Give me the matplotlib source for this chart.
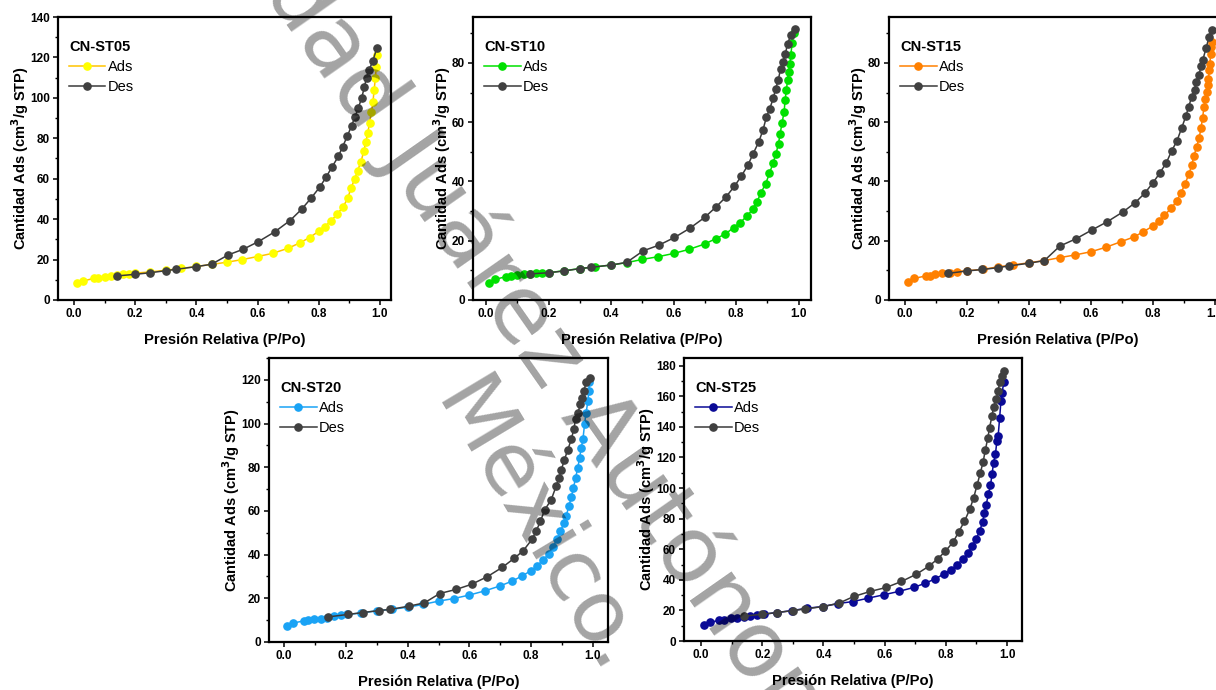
import matplotlib
matplotlib.use("Agg")
import matplotlib.pyplot as plt
from matplotlib.ticker import MultipleLocator

plt.rcParams['font.family'] = ['Liberation Sans', 'DejaVu Sans']
plt.rcParams['mathtext.default'] = 'bf'

# --- data (P/Po, cm3/g STP) ---
st05_ads_p = [0.01, 0.03, 0.065, 0.08, 0.10, 0.12, 0.14, 0.16, 0.18, 0.20, 0.25, 0.30, 0.35, 0.40, 0.45,
              0.50, 0.55, 0.60, 0.65, 0.70, 0.74, 0.77, 0.80, 0.82, 0.84, 0.86, 0.88, 0.895, 0.905, 0.918,
              0.927, 0.938, 0.947, 0.954, 0.96, 0.966, 0.972, 0.977, 0.981, 0.985, 0.988, 0.99]
st05_ads_v = [8.3, 9.4, 10.7, 11.0, 11.5, 12.0, 12.4, 12.7, 13.0, 13.3, 13.9, 14.7, 15.6, 16.6, 17.6,
              18.7, 20.0, 21.5, 23.1, 25.6, 28.4, 30.9, 34.0, 36.3, 39.1, 42.4, 46.2, 50.4, 55.3, 60.0,
              64.0, 68.5, 73.5, 78.4, 82.5, 87.8, 92.8, 98.0, 104.0, 110.0, 115.5, 121.0]
st05_des_p = [0.99, 0.976, 0.965, 0.956, 0.949, 0.94, 0.929, 0.918, 0.907, 0.893, 0.878, 0.864, 0.844,
              0.824, 0.804, 0.775, 0.744, 0.706, 0.657, 0.603, 0.553, 0.504, 0.45, 0.40, 0.335, 0.30,
              0.25, 0.20, 0.14]
st05_des_v = [124.7, 118.0, 114.0, 110.0, 105.3, 99.9, 94.9, 90.5, 86.2, 80.9, 75.9, 71.0, 66.0,
              60.8, 56.0, 50.4, 44.9, 39.3, 33.8, 28.9, 25.1, 22.3, 17.7, 16.5, 15.2, 14.5,
              13.5, 12.7, 11.9]

st10_ads_p = [0.01, 0.03, 0.065, 0.08, 0.10, 0.12, 0.14, 0.16, 0.18, 0.20, 0.25, 0.30, 0.35, 0.40, 0.45,
              0.50, 0.55, 0.60, 0.65, 0.70, 0.735, 0.765, 0.792, 0.813, 0.835, 0.853, 0.867, 0.88, 0.895,
              0.907, 0.918, 0.928, 0.936, 0.941, 0.947, 0.954, 0.957, 0.961, 0.965, 0.968, 0.973, 0.975,
              0.98, 0.984]
st10_ads_v = [5.8, 7.0, 7.9, 8.1, 8.4, 8.7, 8.9, 9.0, 9.1, 9.2, 9.9, 10.6, 11.2, 11.8, 12.6,
              13.7, 14.6, 15.7, 17.1, 18.9, 20.7, 22.2, 24.4, 26.1, 28.3, 30.6, 33.1, 36.2, 39.3,
              42.7, 46.1, 49.4, 52.8, 56.0, 59.6, 63.5, 67.4, 70.8, 74.2, 77.0, 79.8, 82.6,
              86.7, 90.0]
st10_des_p = [0.99, 0.975, 0.965, 0.958, 0.95, 0.943, 0.935, 0.927, 0.919, 0.908, 0.897, 0.886, 0.873,
              0.854, 0.838, 0.817, 0.795, 0.768, 0.737, 0.70, 0.652, 0.603, 0.553, 0.503, 0.45, 0.40,
              0.335, 0.30, 0.25, 0.20, 0.14]
st10_des_v = [91.6, 89.3, 86.5, 83.1, 80.3, 78.1, 74.2, 71.3, 68.0, 64.6, 61.6, 57.3, 53.4,
              49.2, 45.5, 41.8, 38.4, 34.8, 31.5, 27.9, 24.2, 21.1, 18.5, 16.6, 12.7, 11.8,
              11.0, 10.6, 9.8, 9.2, 8.8]

st15_ads_p = [0.01, 0.03, 0.066, 0.079, 0.098, 0.12, 0.144, 0.168, 0.20, 0.251, 0.30, 0.35, 0.401, 0.45,
              0.50, 0.549, 0.601, 0.649, 0.698, 0.74, 0.769, 0.80, 0.82, 0.838, 0.86, 0.877, 0.891, 0.904,
              0.917, 0.926, 0.933, 0.942, 0.95, 0.956, 0.961, 0.966, 0.969, 0.975, 0.977, 0.98, 0.983,
              0.985, 0.987, 0.989, 0.99]
st15_ads_v = [6.2, 7.3, 8.1, 8.2, 8.7, 9.0, 9.2, 9.6, 9.9, 10.3, 11.2, 11.8, 12.6, 13.3,
              14.3, 15.2, 16.3, 17.8, 19.7, 21.3, 23.0, 24.9, 26.7, 28.7, 30.9, 33.4, 36.0, 39.1,
              42.5, 45.5, 48.5, 51.7, 54.8, 57.9, 61.5, 65.2, 67.7, 70.2, 72.5, 74.7, 77.5,
              79.8, 83.1, 85.4, 87.1]
st15_des_p = [0.99, 0.982, 0.973, 0.962, 0.956, 0.949, 0.94, 0.935, 0.926, 0.916, 0.907, 0.893, 0.878,
              0.861, 0.844, 0.822, 0.801, 0.774, 0.743, 0.705, 0.653, 0.603, 0.553, 0.50, 0.45, 0.40,
              0.335, 0.30, 0.25, 0.20, 0.14]
st15_des_v = [91.2, 88.8, 85.2, 81.1, 78.9, 75.8, 73.6, 71.0, 68.5, 65.2, 62.0, 57.9, 53.6,
              50.3, 46.3, 42.7, 39.6, 36.0, 32.8, 29.8, 26.4, 23.6, 20.7, 18.2, 13.3, 12.4,
              11.5, 10.9, 10.3, 9.8, 9.0]

st20_ads_p = [0.01, 0.03, 0.065, 0.076, 0.098, 0.12, 0.14, 0.162, 0.184, 0.205, 0.25, 0.30, 0.35, 0.40,
              0.45, 0.50, 0.55, 0.60, 0.65, 0.70, 0.739, 0.77, 0.798, 0.82, 0.838, 0.857, 0.871, 0.885,
              0.895, 0.906, 0.914, 0.922, 0.93, 0.937, 0.944, 0.951, 0.957, 0.962, 0.968, 0.973, 0.978,
              0.984, 0.987, 0.989]
st20_ads_v = [7.2, 8.7, 9.7, 10.0, 10.3, 10.7, 11.2, 11.8, 12.3, 12.6, 13.3, 14.3, 15.0, 15.9,
              17.2, 18.7, 19.9, 21.5, 23.4, 25.7, 27.9, 30.2, 32.5, 34.9, 37.5, 40.2, 43.7, 47.1,
              50.6, 54.4, 57.9, 62.1, 66.2, 70.5, 75.1, 79.7, 84.3, 88.6, 93.0, 99.6, 105.0,
              110.3, 115.0, 118.8]
st20_des_p = [0.99, 0.978, 0.971, 0.966, 0.959, 0.952, 0.944, 0.938, 0.93, 0.919, 0.908, 0.898, 0.89,
              0.881, 0.865, 0.844, 0.83, 0.817, 0.804, 0.774, 0.745, 0.707, 0.658, 0.607, 0.558, 0.504,
              0.454, 0.404, 0.343, 0.308, 0.256, 0.206, 0.143]
st20_des_v = [121.0, 118.8, 115.0, 111.9, 108.8, 105.0, 101.9, 97.3, 92.7, 88.1, 83.5, 78.9, 75.0,
              71.3, 65.1, 60.5, 55.2, 51.0, 47.2, 41.7, 38.3, 34.2, 29.9, 26.4, 24.1, 22.2,
              17.9, 16.4, 14.9, 14.4, 13.5, 12.6, 11.5]

st25_ads_p = [0.01, 0.03, 0.06, 0.075, 0.098, 0.118, 0.139, 0.161, 0.183, 0.205, 0.248, 0.297, 0.346,
              0.397, 0.448, 0.497, 0.546, 0.597, 0.646, 0.695, 0.733, 0.766, 0.793, 0.817, 0.837, 0.856,
              0.873, 0.886, 0.90, 0.911, 0.92, 0.926, 0.932, 0.939, 0.946, 0.951, 0.956, 0.962, 0.967,
              0.971, 0.976, 0.98, 0.984, 0.989]
st25_ads_v = [10.5, 12.2, 13.6, 14.0, 14.9, 15.3, 16.0, 16.4, 17.1, 17.5, 18.6, 19.9, 21.4,
              22.5, 24.5, 25.8, 28.0, 30.2, 32.4, 35.0, 37.8, 40.7, 43.7, 46.6, 49.9, 53.6,
              57.5, 61.9, 66.9, 72.2, 77.6, 83.8, 89.2, 95.8, 101.9, 108.9, 116.6, 122.0, 130.8,
              134.0, 146.0, 156.6, 161.9, 169.0]
st25_des_p = [0.99, 0.984, 0.976, 0.971, 0.965, 0.956, 0.951, 0.943, 0.937, 0.929, 0.922, 0.913, 0.902,
              0.891, 0.878, 0.861, 0.842, 0.824, 0.798, 0.773, 0.744, 0.704, 0.655, 0.605, 0.553, 0.499,
              0.45, 0.399, 0.341, 0.301, 0.248, 0.199, 0.14]
st25_des_v = [176.3, 173.4, 169.0, 163.6, 158.1, 153.1, 147.2, 139.5, 132.5, 124.7, 117.2, 110.0, 101.9,
              93.6, 86.0, 78.3, 71.3, 64.7, 58.6, 53.6, 48.8, 43.7, 38.9, 35.0, 32.4, 29.1,
              24.7, 22.5, 21.0, 19.9, 18.6, 17.5, 16.2]

sample_names = ['CN-ST05', 'CN-ST10', 'CN-ST15', 'CN-ST20', 'CN-ST25']
x_label = 'Presión Relativa (P/Po)'
y_label = r'Cantidad Ads (cm$^3$/g STP)'

# --- figure layout (pixel boxes: left, top, right, bottom) ---
W, H = 1216, 690
fig = plt.figure(figsize=(W / 100, H / 100), dpi=100)


def add_box(left, top, right, bottom):
    return fig.add_axes([left / W, 1 - bottom / H, (right - left) / W, (bottom - top) / H])


panels = [
    # name, ads, des, ads marker color, ads line color, box, ylim, xlim
    (sample_names[0], st05_ads_p, st05_ads_v, st05_des_p, st05_des_v, '#FFFF00', '#FFC400',
     (58, 17, 391, 300), 140, (-0.052, 1.036)),
    (sample_names[1], st10_ads_p, st10_ads_v, st10_des_p, st10_des_v, '#00E000', '#00E000',
     (473, 17, 811, 300), 95.5, (-0.042, 1.040)),
    (sample_names[2], st15_ads_p, st15_ads_v, st15_des_p, st15_des_v, '#FF8000', '#FF8000',
     (889, 17, 1227, 300), 95.5, (-0.052, 1.040)),
    (sample_names[3], st20_ads_p, st20_ads_v, st20_des_p, st20_des_v, '#1AA3F5', '#1AA3F5',
     (269, 358, 608, 642), 130, (-0.049, 1.049)),
    (sample_names[4], st25_ads_p, st25_ads_v, st25_des_p, st25_des_v, '#0A0A96', '#0A0A96',
     (684, 358, 1022, 641), 185, (-0.056, 1.049)),
]

des_color = '#3A3A3A'

for name, ap, av, dp, dv, mcol, lcol, box, ytop, xlim in panels:
    ax = add_box(*box)
    ax.plot(ap, av, '-o', color=lcol, mfc=mcol, mec=mcol, ms=5.2, lw=1.1, label='Ads')
    ax.plot(dp, dv, '-o', color=des_color, mfc='#404040', mec='#404040', ms=5.2, lw=1.1, label='Des')

    ax.set_xlim(*xlim)
    ax.set_ylim(0, ytop)
    ax.xaxis.set_major_locator(MultipleLocator(0.2))
    ax.xaxis.set_minor_locator(MultipleLocator(0.1))
    ax.yaxis.set_major_locator(MultipleLocator(20))
    ax.yaxis.set_minor_locator(MultipleLocator(10))
    ax.xaxis.set_major_formatter(plt.FormatStrFormatter('%.1f'))

    for sp in ax.spines.values():
        sp.set_linewidth(1.6)
    ax.tick_params(which='major', direction='out', length=3.5, width=1.1, labelsize=8.5, pad=2.5)
    ax.tick_params(which='minor', direction='out', length=2, width=1.0)
    for lab in ax.get_xticklabels() + ax.get_yticklabels():
        lab.set_fontweight('bold')

    ax.set_xlabel(x_label, fontsize=10.6, fontweight='bold', labelpad=9)
    ax.set_ylabel(y_label, fontsize=10.5, fontweight='bold', labelpad=-1)

    leg = ax.legend(loc='upper left', bbox_to_anchor=(0.033, 0.918), frameon=False,
                    title=name, title_fontproperties={'weight': 'bold', 'size': 10.5},
                    fontsize=10.5, handlelength=2.5, handletextpad=0.15, labelspacing=0.4,
                    borderpad=0, borderaxespad=0, alignment='left')

# --- watermark lettering over the figure ---
wm = dict(color='black', alpha=0.36, rotation_mode='anchor',
          ha='center', va='center', zorder=10, family='DejaVu Sans')
fig.text(528 / W, 1 - 322 / H, 'Ciudad Juárez Autónoma', fontsize=67, rotation=-55, **wm)
fig.text(537 / W, 1 - 529 / H, 'México.', fontsize=62, rotation=-59, **wm)

fig.savefig('out.png', dpi=100)
